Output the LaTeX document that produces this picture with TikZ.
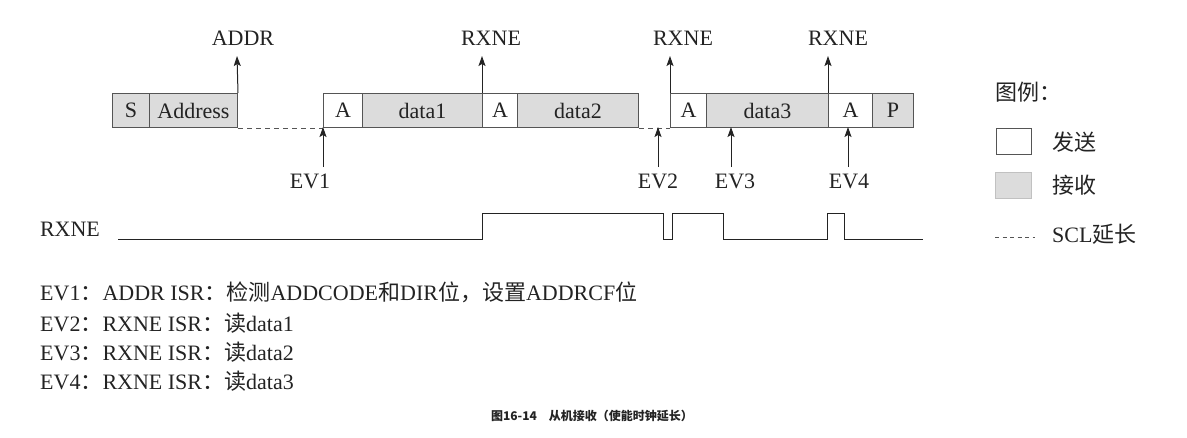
\documentclass[tikz,border=0pt]{standalone}
\usepackage{fontspec}
\setmainfont{Liberation Serif}
\newfontfamily\cjk{Noto Sans CJK SC}
\usetikzlibrary{arrows.meta}
\definecolor{fillg}{RGB}{220,220,220}
\definecolor{edge}{RGB}{85,85,85}
\definecolor{ink}{RGB}{35,35,35}
\newcommand\bigf{\fontsize{22}{26}\selectfont}
\begin{document}
\begin{tikzpicture}[x=1pt,y=-1pt,
  cell/.style={draw=edge,line width=1pt,minimum height=34pt,inner sep=0pt,anchor=north west,font=\bigf,text=ink},
  rx/.style={cell,fill=fillg},
  tx/.style={cell,fill=white},
  lbl/.style={font=\bigf,text=ink,inner sep=0pt},
  arr/.style={draw=ink,line width=1pt,-{Stealth[length=10pt,width=7pt,inset=2pt]}},
  scl/.style={draw=edge,line width=0.8pt,dash pattern=on 5pt off 4pt},
  wave/.style={draw=ink,line width=1pt},
]
\useasboundingbox (0,0) rectangle (1187,437);
% frame cells
\node[rx,minimum width=37pt]  (s)    at (112,93) {S};
\node[rx,minimum width=88pt]  (addr) at (149,93) {Address};
\node[tx,minimum width=39pt]  (a1)   at (323,93) {A};
\node[rx,minimum width=120pt] (d1)   at (362,93) {data1};
\node[tx,minimum width=35pt]  (a2)   at (482,93) {A};
\node[rx,minimum width=121pt] (d2)   at (517,93) {data2};
\node[tx,minimum width=36pt]  (a3)   at (670,93) {A};
\node[rx,minimum width=122pt] (d3)   at (706,93) {data3};
\node[tx,minimum width=44pt]  (a4)   at (828,93) {A};
\node[rx,minimum width=41pt]  (p)    at (872,93) {P};
% SCL stretching
\draw[scl] (addr.south east) -- (a1.south west);
\draw[scl] (d2.south east) -- (a3.south west);
% top flags
\node[lbl] (lADDR) at (243,38) {ADDR};
\node[lbl] (lR1) at (491,38) {RXNE};
\node[lbl] (lR2) at (683,38) {RXNE};
\node[lbl] (lR3) at (838,38) {RXNE};
\coordinate (tADDR) at (237,56);
\coordinate (tR1) at (482,56);
\coordinate (tR2) at (670,56);
\coordinate (tR3) at (828,56);
\draw[arr] (addr.north east) -- (tADDR);
\draw[arr] (a2.north west) -- (tR1);
\draw[arr] (a3.north west) -- (tR2);
\draw[arr] (a4.north west) -- (tR3);
% events
\node[lbl] (ev1) at (310,181) {EV1};
\node[lbl] (ev2) at (658,181) {EV2};
\node[lbl] (ev3) at (735,181) {EV3};
\node[lbl] (ev4) at (849,181) {EV4};
\coordinate (b1) at (323,167); \coordinate (h1) at (323,127);
\coordinate (b2) at (658,167); \coordinate (h2) at (658,127);
\coordinate (b3) at (731,167); \coordinate (h3) at (731,127);
\coordinate (b4) at (848,167); \coordinate (h4) at (848,127);
\draw[arr] (b1) -- (h1);
\draw[arr] (b2) -- (h2);
\draw[arr] (b3) -- (h3);
\draw[arr] (b4) -- (h4);
% RXNE waveform
\node[lbl] (wl) at (70,229) {RXNE};
\draw[wave] (118,239) -- (482,239) -- (482,213) -- (663,213) -- (663,239) -- (672,239) -- (672,213) -- (723,213) -- (723,239) -- (827,239) -- (827,213) -- (844,213) -- (844,239) -- (923,239);
% legend
\node[lbl,anchor=west] (lg) at (995,92) {\cjk 图例：};
\node[draw=edge,line width=1pt,fill=white,minimum width=35pt,minimum height=26pt,inner sep=0pt,anchor=north west] (lgt) at (996,128) {};
\node[lbl,anchor=west] (lgtt) at (1052,142) {\cjk 发送};
\node[draw=fillg!80!edge,line width=0.6pt,fill=fillg,minimum width=36pt,minimum height=26pt,inner sep=0pt,anchor=north west] (lgr) at (995,172) {};
\node[lbl,anchor=west] (lgrt) at (1052,185) {\cjk 接收};
\coordinate (lgd1) at (995,237); \coordinate (lgd2) at (1035,237);
\draw[draw=edge,line width=0.7pt,dash pattern=on 4pt off 3.5pt] (lgd1) -- (lgd2);
\node[lbl,anchor=west] (lgdt) at (1052,234) {SCL{\cjk 延长}};
% event descriptions
\node[lbl,anchor=west] (e1) at (40,292) {EV1{\cjk ：}ADDR ISR{\cjk ：检测}ADDCODE{\cjk 和}DIR{\cjk 位，设置}ADDRCF{\cjk 位}};
\node[lbl,anchor=west] (e2) at (40,323) {EV2{\cjk ：}RXNE ISR{\cjk ：读}data1};
\node[lbl,anchor=west] (e3) at (40,352) {EV3{\cjk ：}RXNE ISR{\cjk ：读}data2};
\node[lbl,anchor=west] (e4) at (40,381) {EV4{\cjk ：}RXNE ISR{\cjk ：读}data3};
% caption
\node[text=ink,inner sep=0pt,font=\cjk\bfseries\fontsize{12}{14}\selectfont] (cap) at (592,416) {图16-14\quad 从机接收（使能时钟延长）};
\end{tikzpicture}
\end{document}
